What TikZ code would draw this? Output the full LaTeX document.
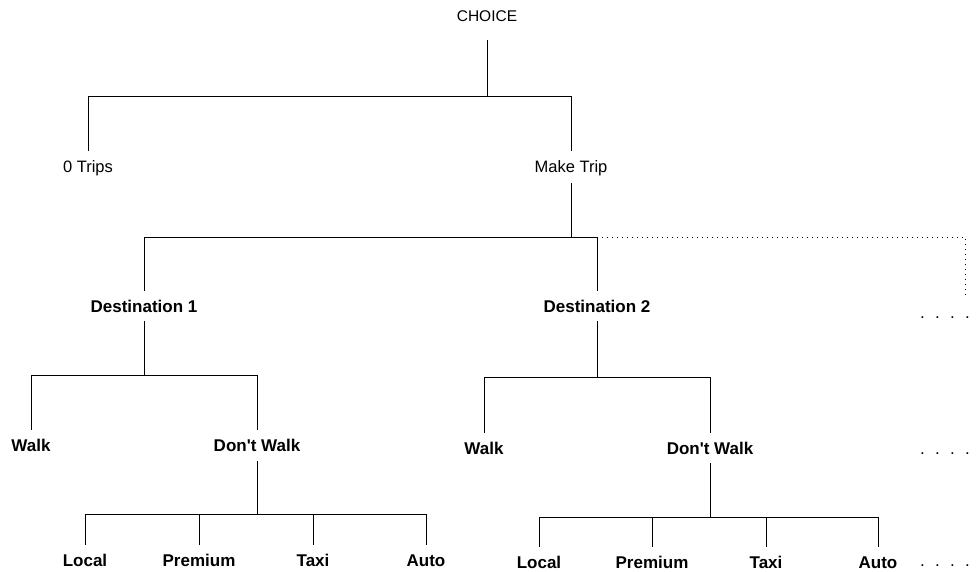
\documentclass[tikz,border=0pt]{standalone}
\usepackage{fontspec}
\setmainfont{Liberation Sans}[Ligatures=TeXOff]
\newcommand{\moredots}{.\hspace{10.3pt}.\hspace{10.3pt}.\hspace{10.3pt}.}
\tikzset{
  rootlabel/.style={font=\fontsize{15.5}{18}\selectfont, text height=11.1pt, text depth=0pt, inner xsep=0pt, inner ysep=18.5pt},
  toplabel/.style={font=\fontsize{16.5}{19}\selectfont, text height=11.8pt, text depth=0pt, inner xsep=0pt, inner ysep=10pt},
  altlabel/.style={font=\fontsize{17}{20}\selectfont\bfseries, text height=12.2pt, text depth=0pt, inner xsep=0pt, inner ysep=9pt},
  etclabel/.style={font=\fontsize{17}{20}\selectfont, text height=12.2pt, text depth=0pt, inner sep=0pt},
  branch/.style={line width=0.8pt},
  trail/.style={line width=0.7pt, dash pattern=on 1pt off 4pt}
}
\begin{document}
\begin{tikzpicture}[x=1pt, y=-1pt]
\useasboundingbox (0,0) rectangle (979,572);

% Top level
\node[rootlabel] (choice) at (487,16) {CHOICE};
\node[toplabel] (trips) at (88,167) {0 Trips};
\node[toplabel] (mktrip) at (571,167) {Make Trip};

% Destinations
\node[altlabel] (dest1) at (144,306) {Destination 1};
\node[altlabel] (dest2) at (597,306) {Destination 2};
\coordinate (more) at (965,296);

% Walk / don't walk
\node[altlabel] (walk1) at (31,445.5) {Walk};
\node[altlabel] (dwalk1) at (257,445.5) {Don't Walk};
\node[altlabel] (walk2) at (484,448) {Walk};
\node[altlabel] (dwalk2) at (710,448) {Don't Walk};

% Modes
\node[altlabel] (local1) at (85,560) {Local};
\node[altlabel] (prem1) at (199,560) {Premium};
\node[altlabel] (taxi1) at (313,560) {Taxi};
\node[altlabel] (auto1) at (426,560) {Auto};
\node[altlabel] (local2) at (539,562) {Local};
\node[altlabel] (prem2) at (652,562) {Premium};
\node[altlabel] (taxi2) at (766,562) {Taxi};
\node[altlabel] (auto2) at (878,562) {Auto};

% Continuation dots
\node[etclabel] (etc1) at (945,312) {\moredots};
\node[etclabel] (etc2) at (945,448) {\moredots};
\node[etclabel] (etc3) at (945,560) {\moredots};

% Connections
\draw[branch] (choice.south) -- ++(0,56) -| (trips.north);
\draw[branch] (choice.south) -- ++(0,56) -| (mktrip.north);
\draw[branch] (mktrip.south) -- ++(0,54) coordinate (fork) -| (dest1.north);
\draw[branch] (fork) -| (dest2.north);
\draw[trail] (fork -| dest2.north) -| (more);

\draw[branch] (dest1.south) -- ++(0,54) -| (walk1.north);
\draw[branch] (dest1.south) -- ++(0,54) -| (dwalk1.north);
\draw[branch] (dest2.south) -- ++(0,56) -| (walk2.north);
\draw[branch] (dest2.south) -- ++(0,56) -| (dwalk2.north);

\draw[branch] (dwalk1.south) -- ++(0,53.5) coordinate (m1) -| (local1.north);
\draw[branch] (m1) -| (prem1.north);
\draw[branch] (m1) -| (taxi1.north);
\draw[branch] (m1) -| (auto1.north);
\draw[branch] (dwalk2.south) -- ++(0,54.5) coordinate (m2) -| (local2.north);
\draw[branch] (m2) -| (prem2.north);
\draw[branch] (m2) -| (taxi2.north);
\draw[branch] (m2) -| (auto2.north);
\end{tikzpicture}
\end{document}
